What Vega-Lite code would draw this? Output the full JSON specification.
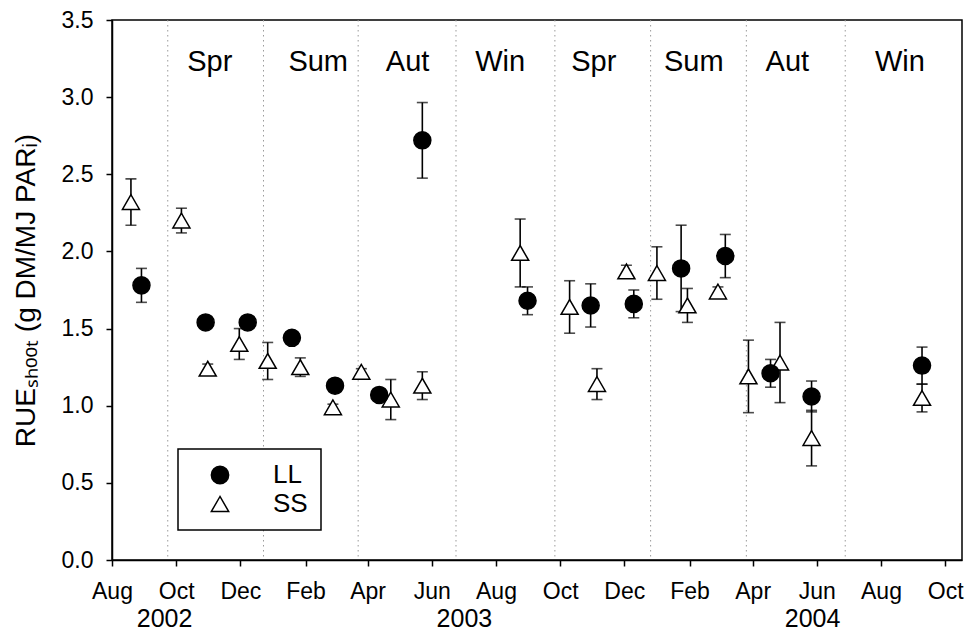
{
  "$schema": "https://vega.github.io/schema/vega-lite/v6.json",
  "width": 850,
  "height": 540,
  "autosize": {"type": "none"},
  "padding": {"left": 112, "top": 20, "right": 4, "bottom": 75},
  "background": "white",
  "config": {
    "view": {"stroke": "black", "strokeWidth": 1.5},
    "font": "Liberation Sans",
    "axis": {
      "domainColor": "black", "domainWidth": 1.5,
      "tickColor": "black", "tickWidth": 1.5, "tickSize": 6,
      "labelFont": "Liberation Sans", "labelFontSize": 23, "labelColor": "black",
      "grid": false,
      "titleFont": "Liberation Sans", "titleColor": "black", "titleFontWeight": "normal", "titleFontSize": 28
    },
    "legend": {
      "orient": "none", "legendX": 66, "legendY": 429,
      "strokeColor": "black", "strokeWidth": 1.5, "fillColor": "white",
      "padding": 13, "symbolOffset": 16, "labelOffset": 40,
      "labelFontSize": 26, "labelColor": "black", "labelFont": "Liberation Sans",
      "symbolSize": 300, "symbolStrokeColor": "black", "symbolStrokeWidth": 1.5,
      "rowPadding": 3, "title": null
    }
  },
  "datasets": {
    "points": [
      {"date": "2002-08-19", "treatment": "SS", "value": 2.32, "err": 0.15},
      {"date": "2002-10-06", "treatment": "SS", "value": 2.20, "err": 0.08},
      {"date": "2002-10-31", "treatment": "SS", "value": 1.24, "err": 0.03},
      {"date": "2002-11-30", "treatment": "SS", "value": 1.40, "err": 0.10},
      {"date": "2002-12-27", "treatment": "SS", "value": 1.29, "err": 0.12},
      {"date": "2003-01-27", "treatment": "SS", "value": 1.25, "err": 0.06},
      {"date": "2003-02-27", "treatment": "SS", "value": 0.99, "err": 0.02},
      {"date": "2003-03-26", "treatment": "SS", "value": 1.22, "err": 0.02},
      {"date": "2003-04-23", "treatment": "SS", "value": 1.04, "err": 0.13},
      {"date": "2003-05-23", "treatment": "SS", "value": 1.13, "err": 0.09},
      {"date": "2003-08-24", "treatment": "SS", "value": 1.99, "err": 0.22},
      {"date": "2003-10-10", "treatment": "SS", "value": 1.64, "err": 0.17},
      {"date": "2003-11-05", "treatment": "SS", "value": 1.14, "err": 0.10},
      {"date": "2003-12-03", "treatment": "SS", "value": 1.87, "err": 0.04},
      {"date": "2004-01-01", "treatment": "SS", "value": 1.86, "err": 0.17},
      {"date": "2004-01-30", "treatment": "SS", "value": 1.65, "err": 0.11},
      {"date": "2004-02-28", "treatment": "SS", "value": 1.74, "err": 0.03},
      {"date": "2004-03-28", "treatment": "SS", "value": 1.19, "err": 0.235},
      {"date": "2004-04-27", "treatment": "SS", "value": 1.28, "err": 0.26},
      {"date": "2004-05-27", "treatment": "SS", "value": 0.79, "err": 0.18},
      {"date": "2004-09-09", "treatment": "SS", "value": 1.05, "err": 0.09},
      {"date": "2002-08-29", "treatment": "LL", "value": 1.78, "err": 0.11},
      {"date": "2002-10-29", "treatment": "LL", "value": 1.54, "err": 0.03},
      {"date": "2002-12-08", "treatment": "LL", "value": 1.54, "err": 0.03},
      {"date": "2003-01-19", "treatment": "LL", "value": 1.44, "err": 0.04},
      {"date": "2003-03-01", "treatment": "LL", "value": 1.13, "err": 0.02},
      {"date": "2003-04-12", "treatment": "LL", "value": 1.07, "err": 0.04},
      {"date": "2003-05-23", "treatment": "LL", "value": 2.72, "err": 0.245},
      {"date": "2003-08-31", "treatment": "LL", "value": 1.68, "err": 0.09},
      {"date": "2003-10-30", "treatment": "LL", "value": 1.65, "err": 0.14},
      {"date": "2003-12-10", "treatment": "LL", "value": 1.66, "err": 0.09},
      {"date": "2004-01-24", "treatment": "LL", "value": 1.89, "err": 0.28},
      {"date": "2004-03-06", "treatment": "LL", "value": 1.97, "err": 0.14},
      {"date": "2004-04-18", "treatment": "LL", "value": 1.21, "err": 0.09},
      {"date": "2004-05-27", "treatment": "LL", "value": 1.06, "err": 0.10},
      {"date": "2004-09-09", "treatment": "LL", "value": 1.26, "err": 0.12}
    ],
    "bounds": [
      {"date": "2002-09-23"}, {"date": "2002-12-23"}, {"date": "2003-03-23"}, {"date": "2003-06-24"},
      {"date": "2003-09-26"}, {"date": "2003-12-26"}, {"date": "2004-03-26"}, {"date": "2004-06-28"}
    ],
    "seasons": [
      {"date": "2002-11-02", "season": "Spr"}, {"date": "2003-02-13", "season": "Sum"},
      {"date": "2003-05-09", "season": "Aut"}, {"date": "2003-08-05", "season": "Win"},
      {"date": "2003-11-02", "season": "Spr"}, {"date": "2004-02-05", "season": "Sum"},
      {"date": "2004-05-04", "season": "Aut"}, {"date": "2004-08-19", "season": "Win"}
    ],
    "years": [
      {"date": "2002-09-20", "year": "2002"}, {"date": "2003-07-02", "year": "2003"}, {"date": "2004-05-28", "year": "2004"}
    ]
  },
  "layer": [
    {
      "data": {"name": "bounds"},
      "mark": {"type": "rule", "color": "#9a9a9a", "strokeWidth": 1, "strokeDash": [1.5, 3.5]},
      "encoding": {
        "x": {"field": "date", "type": "temporal", "title": null,
          "scale": {"type": "utc", "domain": [{"year": 2002, "month": 8, "date": 1, "utc": true}, {"year": 2004, "month": 10, "date": 17, "utc": true}]},
          "axis": {
            "values": [
              {"year": 2002, "month": 8, "date": 1, "utc": true}, {"year": 2002, "month": 10, "date": 1, "utc": true},
              {"year": 2002, "month": 12, "date": 1, "utc": true}, {"year": 2003, "month": 2, "date": 1, "utc": true},
              {"year": 2003, "month": 4, "date": 1, "utc": true}, {"year": 2003, "month": 6, "date": 1, "utc": true},
              {"year": 2003, "month": 8, "date": 1, "utc": true}, {"year": 2003, "month": 10, "date": 1, "utc": true},
              {"year": 2003, "month": 12, "date": 1, "utc": true}, {"year": 2004, "month": 2, "date": 1, "utc": true},
              {"year": 2004, "month": 4, "date": 1, "utc": true}, {"year": 2004, "month": 6, "date": 1, "utc": true},
              {"year": 2004, "month": 8, "date": 1, "utc": true}, {"year": 2004, "month": 10, "date": 1, "utc": true}
            ],
            "labelExpr": "utcFormat(datum.value, '%b')", "title": null, "labelPadding": 14, "labelFlush": false, "labelOverlap": false
          }
        }
      }
    },
    {
      "mark": {"type": "rule", "color": "black", "strokeWidth": 1.5, "strokeDash": [11, 6]},
      "encoding": {
        "y": {"datum": 1.5, "type": "quantitative", "title": "RUEₛₕₒₒₜ (g DM/MJ PARᵢ)",
          "scale": {"domain": [0, 3.5], "nice": false},
          "axis": {"values": [0, 0.5, 1, 1.5, 2, 2.5, 3, 3.5], "format": ".1f", "labelPadding": 13,
                   "title": "RUEₛₕₒₒₜ (g DM/MJ PARᵢ)", "titlePadding": 21}
        }
      }
    },
    {
      "data": {"name": "seasons"},
      "mark": {"type": "text", "fontSize": 29, "color": "black", "align": "center", "baseline": "middle"},
      "encoding": {
        "x": {"field": "date", "type": "temporal", "title": null},
        "y": {"datum": 3.23, "type": "quantitative", "title": "RUEₛₕₒₒₜ (g DM/MJ PARᵢ)"},
        "text": {"field": "season"}
      }
    },
    {
      "data": {"name": "years"},
      "mark": {"type": "text", "fontSize": 25, "color": "black", "align": "center", "baseline": "middle"},
      "encoding": {
        "x": {"field": "date", "type": "temporal", "title": null},
        "y": {"datum": -0.38, "type": "quantitative", "title": "RUEₛₕₒₒₜ (g DM/MJ PARᵢ)"},
        "text": {"field": "year"}
      }
    },
    {
      "data": {"name": "points"},
      "mark": {"type": "errorbar", "color": "black", "thickness": 1.6, "ticks": {"size": 11, "thickness": 1.6, "color": "black"}},
      "encoding": {
        "x": {"field": "date", "type": "temporal", "title": null},
        "y": {"field": "value", "type": "quantitative", "title": "RUEₛₕₒₒₜ (g DM/MJ PARᵢ)"},
        "yError": {"field": "err"},
        "detail": {"field": "treatment"}
      }
    },
    {
      "data": {"name": "points"},
      "mark": {"type": "point", "filled": false, "strokeWidth": 1.5, "opacity": 1, "size": 290},
      "encoding": {
        "x": {"field": "date", "type": "temporal", "title": null},
        "y": {"field": "value", "type": "quantitative", "title": "RUEₛₕₒₒₜ (g DM/MJ PARᵢ)"},
        "shape": {"field": "treatment", "type": "nominal", "scale": {"domain": ["LL", "SS"], "range": ["circle", "triangle-up"]}},
        "fill": {"field": "treatment", "type": "nominal", "scale": {"domain": ["LL", "SS"], "range": ["black", "white"]}},
        "stroke": {"field": "treatment", "type": "nominal", "scale": {"domain": ["LL", "SS"], "range": ["black", "black"]}}
      }
    }
  ]
}
